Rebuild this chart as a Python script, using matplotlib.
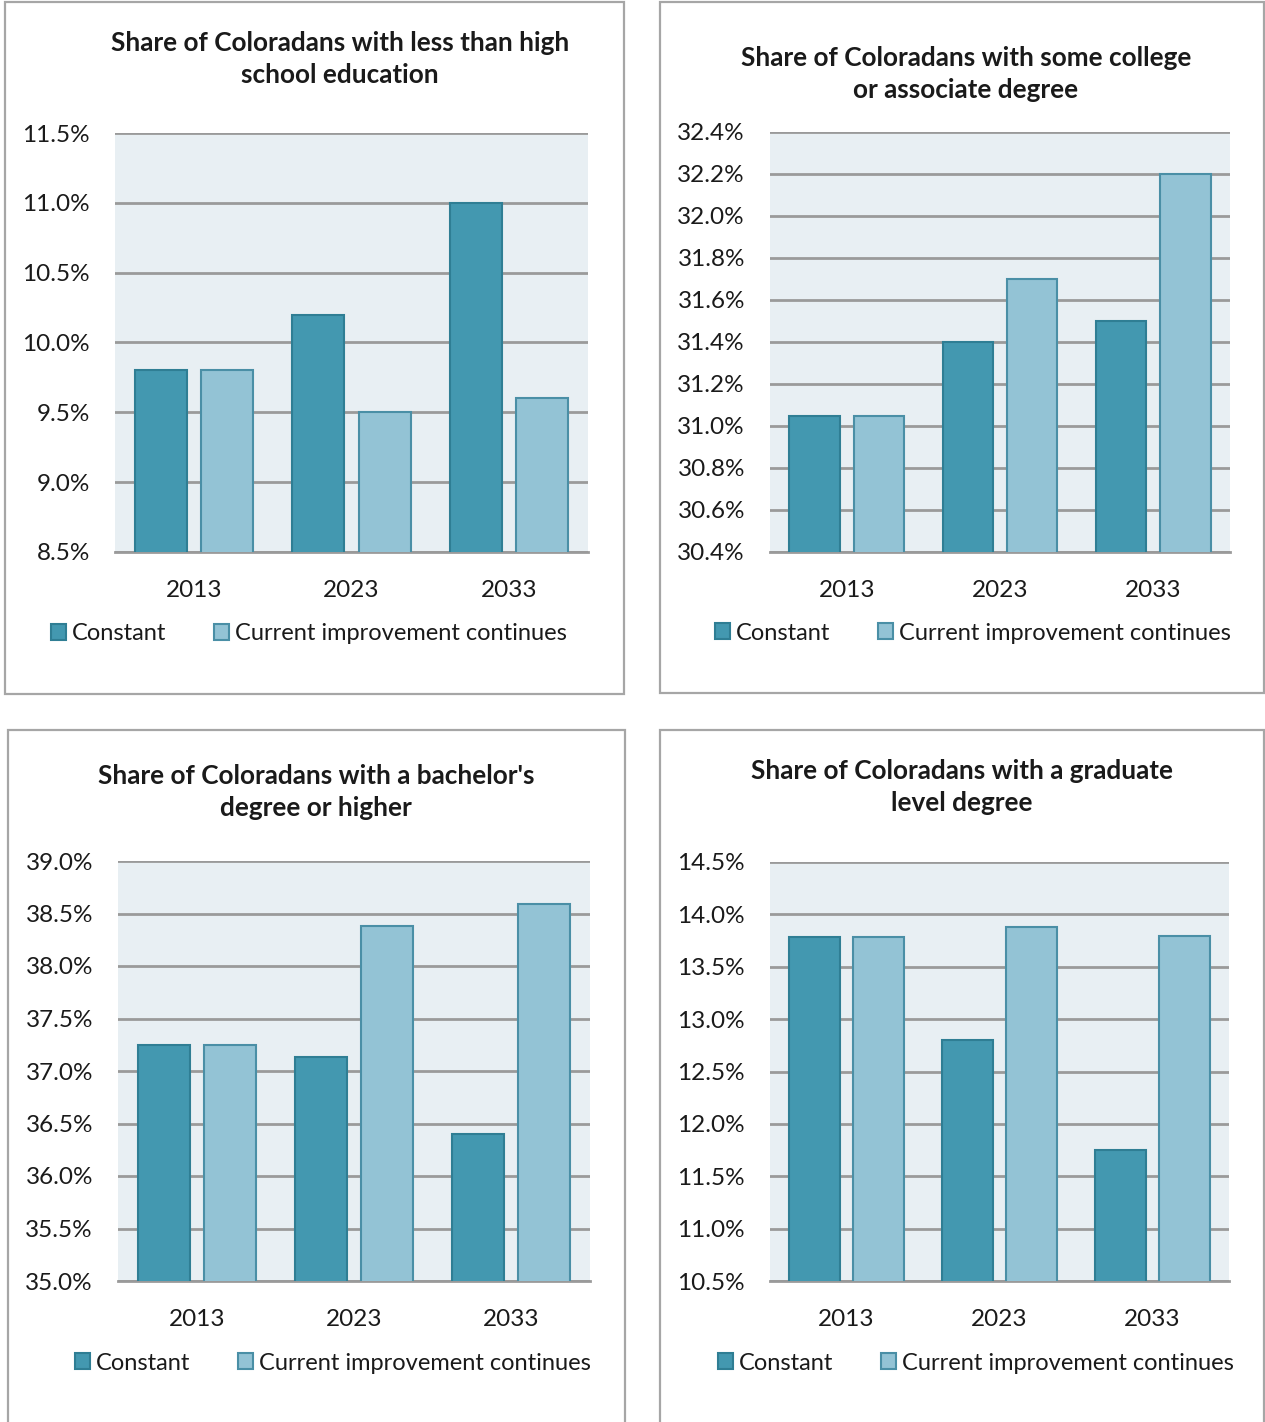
import matplotlib
matplotlib.use("Agg")
import matplotlib.pyplot as plt
from matplotlib.patches import Rectangle
import numpy as np

plt.rcParams['font.family'] = ['Lato', 'DejaVu Sans']

W, H = 1265, 1422

years = ["2013", "2023", "2033"]
series_names = ["Constant", "Current improvement continues"]

titles = ["Share of Coloradans with less than high\nschool education",
          "Share of Coloradans with some college\nor associate degree",
          "Share of Coloradans with a bachelor's\ndegree or higher",
          "Share of Coloradans with a graduate\nlevel degree"]

constant_lths = [9.8, 10.2, 11.0]
improve_lths = [9.8, 9.5, 9.6]
constant_some = [31.05, 31.4, 31.5]
improve_some = [31.05, 31.7, 32.2]
constant_ba = [37.25, 37.13, 36.4]
improve_ba = [37.25, 38.38, 38.59]
constant_grad = [13.78, 12.8, 11.75]
improve_grad = [13.78, 13.88, 13.79]

yticks_lths = [8.5, 9.0, 9.5, 10.0, 10.5, 11.0, 11.5]
yticks_some = [30.4, 30.6, 30.8, 31.0, 31.2, 31.4, 31.6, 31.8, 32.0, 32.2, 32.4]
yticks_ba = [35.0, 35.5, 36.0, 36.5, 37.0, 37.5, 38.0, 38.5, 39.0]
yticks_grad = [10.5, 11.0, 11.5, 12.0, 12.5, 13.0, 13.5, 14.0, 14.5]

dark = "#4398b0"
dark_edge = "#2f7e94"
light = "#93c3d5"
light_edge = "#4a8fa6"

# pixel layout: panel box, axes box, title centre (both lines), legend centre
panels = [
    dict(box=(5, 2, 619, 692), ax=(115, 133, 473, 419), tx=340, ty=59,
         c=constant_lths, i=improve_lths, yt=yticks_lths, leg=(309, 634)),
    dict(box=(660, 2, 604, 691), ax=(770, 132, 460, 420), tx=966, ty=74,
         c=constant_some, i=improve_some, yt=yticks_some, leg=(973, 633)),
    dict(box=(8, 730, 617, 700), ax=(118, 861, 472, 420), tx=316, ty=792,
         c=constant_ba, i=improve_ba, yt=yticks_ba, leg=(333, 1363)),
    dict(box=(660, 730, 604, 700), ax=(770, 862, 459, 419), tx=962, ty=787,
         c=constant_grad, i=improve_grad, yt=yticks_grad, leg=(976, 1363)),
]

fig = plt.figure(figsize=(W / 100, H / 100), dpi=100)

def frac(x, y, w, h):
    return [x / W, 1 - (y + h) / H, w / W, h / H]

for p, title in zip(panels, titles):
    bx, by, bw, bh = p["box"]
    fig.patches.append(Rectangle((bx / W, 1 - (by + bh) / H), bw / W, bh / H,
                                 transform=fig.transFigure, fill=False,
                                 edgecolor="#a6a6a6", linewidth=1.6))
    ax = fig.add_axes(frac(*p["ax"]))
    ax.set_facecolor("#e8eff3")
    x = np.arange(len(years))
    ax.bar(x - 0.21, p["c"], width=0.33, color=dark, edgecolor=dark_edge,
           linewidth=1.5, zorder=3, label=series_names[0])
    ax.bar(x + 0.21, p["i"], width=0.33, color=light, edgecolor=light_edge,
           linewidth=1.5, zorder=3, label=series_names[1])
    ax.set_xlim(-0.5, 2.5)
    ax.set_ylim(p["yt"][0], p["yt"][-1])
    ax.set_yticks(p["yt"])
    ax.set_yticklabels([f"{v:.1f}%" for v in p["yt"]])
    ax.set_xticks(x)
    ax.set_xticklabels(years)
    ax.yaxis.grid(True, color="#9a9a9a", linewidth=2, zorder=1)
    ax.set_axisbelow(True)
    for s in ["left", "right", "top"]:
        ax.spines[s].set_visible(False)
    ax.spines["bottom"].set_color("#9a9a9a")
    ax.spines["bottom"].set_linewidth(2)
    ax.tick_params(axis="both", length=0, colors="#1a1a1a")
    ax.tick_params(axis="y", pad=18, labelsize=17.5)
    ax.tick_params(axis="x", pad=20, labelsize=17.5)
    fig.text(p["tx"] / W, 1 - p["ty"] / H, title, ha="center", va="center",
             fontsize=18.8, fontweight="bold", color="#1a1a1a", linespacing=1.4)
    lx, ly = p["leg"]
    ax.legend(loc="center", bbox_to_anchor=(lx / W, 1 - ly / H),
              bbox_transform=fig.transFigure, ncol=2, frameon=False,
              fontsize=17, handlelength=0.65, handleheight=0.65,
              handletextpad=0.25, columnspacing=2.0, labelcolor="#1a1a1a")

fig.savefig("out.png", dpi=100, facecolor="white")
